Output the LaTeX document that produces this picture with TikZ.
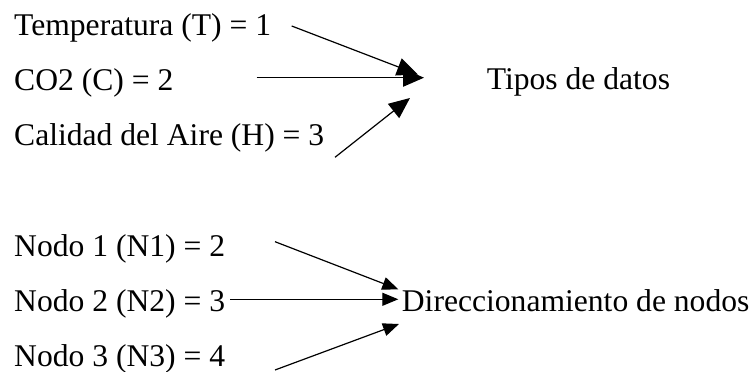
\documentclass[tikz,border=0pt]{standalone}
\usepackage{fontspec}
\setmainfont{Liberation Serif}
\usepackage{tikz}
\usetikzlibrary{arrows.meta}
\newcommand{\textoDato}{\fontsize{31.6}{37}\selectfont}
\tikzset{
  dato/.style={anchor=base west,inner sep=0pt,font=\textoDato},
  flecha/.style={-{Triangle[length=21pt,width=18pt]},line width=1.2pt},
  flechita/.style={-{Triangle[length=16pt,width=13pt]},line width=1.2pt}
}
\begin{document}
\begin{tikzpicture}[x=1pt,y=1pt]
\useasboundingbox (0,0) rectangle (753,372);
% tipos de datos
\node[dato] (temp) at (14,336) {Temperatura (T) = 1};
\node[dato] (co2) at (14,281.3) {CO2 (C) = 2};
\node[dato] (aire) at (14,226) {Calidad del Aire (H) = 3};
\node[dato] (tipos) at (486.7,282) {Tipos de datos};
% direccionamiento
\node[dato] (nodo1) at (14,115.3) {Nodo 1 (N1) = 2};
\node[dato] (nodo2) at (14,60.3) {Nodo 2 (N2) = 3};
\node[dato] (nodo3) at (14,5.3) {Nodo 3 (N3) = 4};
\node[dato] (direc) at (401.7,60.3) {Direccionamiento de nodos};
% extremos de las flechas
\coordinate (t1) at (291.7,346);
\coordinate (t2) at (256.7,294.3);
\coordinate (t3) at (335,214.7);
\coordinate (p1) at (418,297.5);
\coordinate (p2) at (424,294.3);
\coordinate (p3) at (410,274);
\coordinate (n1) at (275,130.3);
\coordinate (n2) at (230,72.7);
\coordinate (n3) at (275,2);
\coordinate (d1) at (398.3,82.7);
\coordinate (d2) at (398.3,72.7);
\coordinate (d3) at (399,48);
\foreach \s/\e in {t1/p1,t2/p2,t3/p3} \draw[flecha] (\s)--(\e);
\foreach \s/\e in {n1/d1,n2/d2,n3/d3} \draw[flechita] (\s)--(\e);
\end{tikzpicture}
\end{document}
